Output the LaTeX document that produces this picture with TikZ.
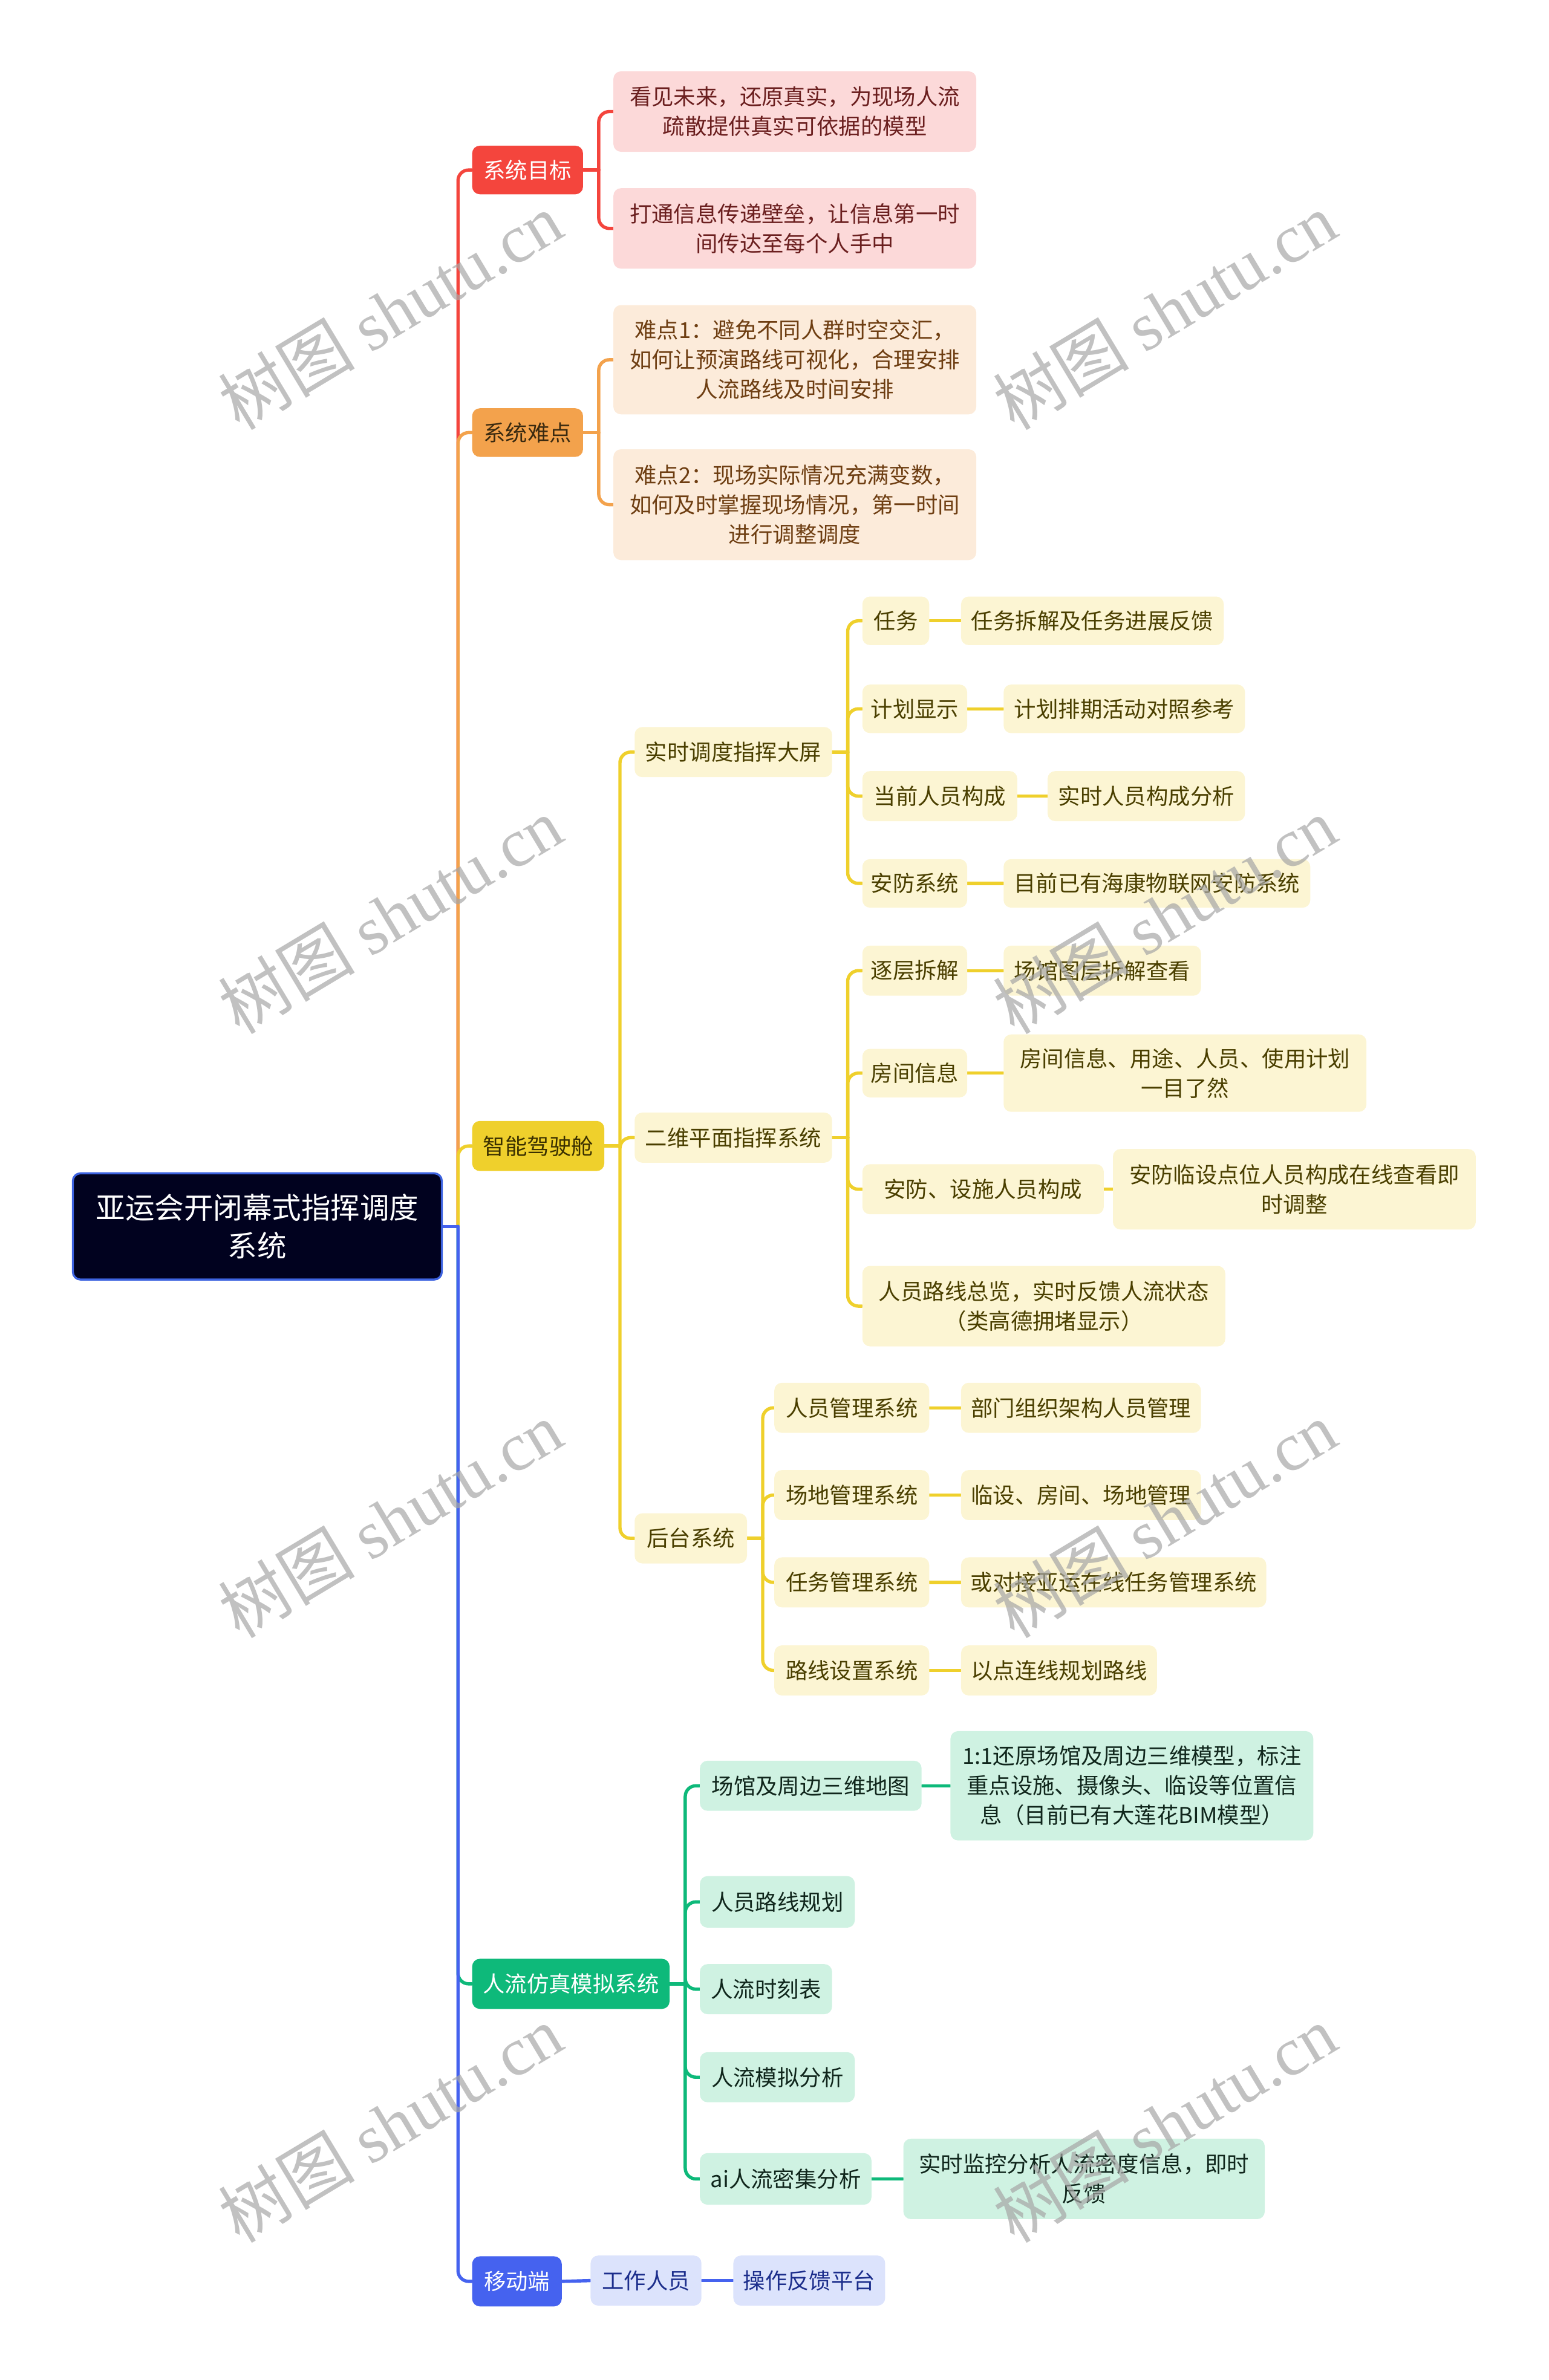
\documentclass[tikz,border=0pt]{standalone}
\usepackage{fontspec}
\setmainfont{Noto Sans CJK SC}
\newfontfamily\wmlatin{Liberation Serif}
\usetikzlibrary{backgrounds}
\pgfdeclarelayer{wmlayer}
\pgfsetlayers{background,main,wmlayer}
\definecolor{cRed}{HTML}{F4453D}
\definecolor{cOra}{HTML}{F3A24C}
\definecolor{cYel}{HTML}{EFD02C}
\definecolor{cGrn}{HTML}{0EB97A}
\definecolor{cBlu}{HTML}{4562EF}
\definecolor{cRoot}{HTML}{01021F}
\definecolor{cRootB}{HTML}{3D63E0}
\definecolor{fPink}{HTML}{FCD9D9}
\definecolor{fPeach}{HTML}{FCEBDA}
\definecolor{fCream}{HTML}{FCF5D3}
\definecolor{fMint}{HTML}{CFF2E2}
\definecolor{fLav}{HTML}{DCE3FC}
\definecolor{tPink}{HTML}{6B1F1F}
\definecolor{tPeach}{HTML}{6E3E12}
\definecolor{tCream}{HTML}{4A3F00}
\definecolor{tMint}{HTML}{10261C}
\definecolor{tLav}{HTML}{1C2E8C}
\definecolor{tOra}{HTML}{3A2A10}
\definecolor{tYel}{HTML}{3A3000}
\newcommand\nodefs{\fontsize{8.7pt}{11.7pt}\selectfont}
\newcommand\rootfs{\fontsize{11.6pt}{15pt}\selectfont}
\newcommand\conn[3]{%
  \draw[#1] (#2.east) -- ++(10,0) coordinate (jn);
  \draw[#1, rounded corners=4.2pt] (jn) |- (#3.west);}
\newcommand\sconn[3]{\draw[#1] (#2.east) -- (#3.west);}
\tikzset{
  box/.style={rounded corners=3pt, inner sep=0pt, align=center, font=\nodefs},
  wh/.style 2 args={minimum width=#1*0.6pt, minimum height=#2*0.6pt},
  lred/.style={box, fill=cRed, text=white},
  lora/.style={box, fill=cOra, text=tOra},
  lyel/.style={box, fill=cYel, text=tYel},
  lgrn/.style={box, fill=cGrn, text=white},
  lblu/.style={box, fill=cBlu, text=white},
  pink/.style={box, fill=fPink, text=tPink},
  peach/.style={box, fill=fPeach, text=tPeach},
  cream/.style={box, fill=fCream, text=tCream},
  mint/.style={box, fill=fMint, text=tMint},
  lav/.style={box, fill=fLav, text=tLav},
  lnred/.style={draw=cRed, line width=1.3pt, line cap=round},
  lnora/.style={draw=cOra, line width=1.3pt, line cap=round},
  lnyel/.style={draw=cYel, line width=1.3pt, line cap=round},
  lngrn/.style={draw=cGrn, line width=1.3pt, line cap=round},
  lnblu/.style={draw=cBlu, line width=1.3pt, line cap=round},
  wm/.style={rotate=31, text=black!35, opacity=0.7, font=\fontsize{27pt}{30pt}\selectfont}
}
\begin{document}
\begin{tikzpicture}[x=0.6pt, y=-0.6pt]
\useasboundingbox (0,0) rectangle (1020,1568);
% root
\node[box, wh={243}{70}, fill=cRoot, draw=cRootB, line width=0.8pt, text=white, font=\rootfs] (root) at (169.5,808) {亚运会开闭幕式指挥调度\\系统};
% level 1
\node[lred, wh={73}{32}] (g1) at (347.5,112) {系统目标};
\node[lora, wh={73}{32}] (g2) at (347.5,285) {系统难点};
\node[lyel, wh={87}{33}] (g3) at (354.5,755) {智能驾驶舱};
\node[lgrn, wh={130}{33}] (g4) at (376,1307) {人流仿真模拟系统};
\node[lblu, wh={59}{33}] (g5) at (340.5,1503) {移动端};
% goals
\node[pink, wh={239}{53}] (a1) at (523.5,73.5) {看见未来，还原真实，为现场人流\\疏散提供真实可依据的模型};
\node[pink, wh={239}{53}] (a2) at (523.5,150.5) {打通信息传递壁垒，让信息第一时\\间传达至每个人手中};
% difficulties
\node[peach, wh={239}{72}] (b1) at (523.5,237) {难点1：避免不同人群时空交汇，\\如何让预演路线可视化，合理安排\\人流路线及时间安排};
\node[peach, wh={239}{73}] (b2) at (523.5,332.5) {难点2：现场实际情况充满变数，\\如何及时掌握现场情况，第一时间\\进行调整调度};
% cockpit
\node[cream, wh={130}{33}] (c1) at (483,495.5) {实时调度指挥大屏};
\node[cream, wh={130}{33}] (c2) at (483,749.5) {二维平面指挥系统};
\node[cream, wh={74}{33}] (c3) at (455,1013.5) {后台系统};
\node[cream, wh={44}{32}] (d1) at (590,409) {任务};
\node[cream, wh={173}{32}] (e1) at (719.5,409) {任务拆解及任务进展反馈};
\node[cream, wh={69}{32}] (d2) at (602.5,467) {计划显示};
\node[cream, wh={159}{32}] (e2) at (740.5,467) {计划排期活动对照参考};
\node[cream, wh={102}{33}] (d3) at (619,524.5) {当前人员构成};
\node[cream, wh={130}{33}] (e3) at (755,524.5) {实时人员构成分析};
\node[cream, wh={69}{32}] (d4) at (602.5,582) {安防系统};
\node[cream, wh={202}{32}] (e4) at (762,582) {目前已有海康物联网安防系统};
\node[cream, wh={69}{33}] (d5) at (602.5,639.5) {逐层拆解};
\node[cream, wh={130}{33}] (e5) at (726,639.5) {场馆图层拆解查看};
\node[cream, wh={69}{32}] (d6) at (602.5,707) {房间信息};
\node[cream, wh={239}{51}] (e6) at (780.5,707) {房间信息、用途、人员、使用计划\\一目了然};
\node[cream, wh={159}{33}] (d7) at (647.5,783.5) {安防、设施人员构成};
\node[cream, wh={239}{53}] (e7) at (852.5,783.5) {安防临设点位人员构成在线查看即\\时调整};
\node[cream, wh={239}{53}] (d8) at (687.5,860.5) {人员路线总览，实时反馈人流状态\\（类高德拥堵显示）};
\node[cream, wh={102}{33}] (f1) at (561,927.5) {人员管理系统};
\node[cream, wh={158}{33}] (h1) at (712,927.5) {部门组织架构人员管理};
\node[cream, wh={102}{33}] (f2) at (561,985) {场地管理系统};
\node[cream, wh={158}{33}] (h2) at (712,985) {临设、房间、场地管理};
\node[cream, wh={102}{33}] (f3) at (561,1042.5) {任务管理系统};
\node[cream, wh={201}{33}] (h3) at (733.5,1042.5) {或对接亚运在线任务管理系统};
\node[cream, wh={102}{33}] (f4) at (561,1100.5) {路线设置系统};
\node[cream, wh={129}{33}] (h4) at (697.5,1100.5) {以点连线规划路线};
% simulation
\node[mint, wh={146}{33}] (k1) at (534,1176.5) {场馆及周边三维地图};
\node[mint, wh={239}{72}] (m1) at (745.5,1176.5) {1:1还原场馆及周边三维模型，标注\\重点设施、摄像头、临设等位置信\\息（目前已有大莲花BIM模型）};
\node[mint, wh={102}{34}] (k2) at (512,1253) {人员路线规划};
\node[mint, wh={87}{33}] (k3) at (504.5,1310.5) {人流时刻表};
\node[mint, wh={102}{33}] (k4) at (512,1368.5) {人流模拟分析};
\node[mint, wh={113}{34}] (k5) at (517.5,1435.5) {ai人流密集分析};
\node[mint, wh={238}{53}] (m5) at (714,1435.5) {实时监控分析人流密度信息，即时\\反馈};
% mobile
\node[lav, wh={73}{33}] (n1) at (425.5,1502.5) {工作人员};
\node[lav, wh={100}{33}] (n2) at (533,1502.5) {操作反馈平台};
% connectors
\begin{pgfonlayer}{background}
\conn{lnred}{root}{g1}
\conn{lnora}{root}{g2}
\conn{lnyel}{root}{g3}
\conn{lngrn}{root}{g4}
\conn{lnblu}{root}{g5}
\conn{lnred}{g1}{a1}
\conn{lnred}{g1}{a2}
\conn{lnora}{g2}{b1}
\conn{lnora}{g2}{b2}
\conn{lnyel}{g3}{c1}
\conn{lnyel}{g3}{c2}
\conn{lnyel}{g3}{c3}
\conn{lnyel}{c1}{d1}
\conn{lnyel}{c1}{d2}
\conn{lnyel}{c1}{d3}
\conn{lnyel}{c1}{d4}
\conn{lnyel}{c2}{d5}
\conn{lnyel}{c2}{d6}
\conn{lnyel}{c2}{d7}
\conn{lnyel}{c2}{d8}
\conn{lnyel}{c3}{f1}
\conn{lnyel}{c3}{f2}
\conn{lnyel}{c3}{f3}
\conn{lnyel}{c3}{f4}
\sconn{lnyel}{d1}{e1}
\sconn{lnyel}{d2}{e2}
\sconn{lnyel}{d3}{e3}
\sconn{lnyel}{d4}{e4}
\sconn{lnyel}{d5}{e5}
\sconn{lnyel}{d6}{e6}
\sconn{lnyel}{d7}{e7}
\sconn{lnyel}{f1}{h1}
\sconn{lnyel}{f2}{h2}
\sconn{lnyel}{f3}{h3}
\sconn{lnyel}{f4}{h4}
\conn{lngrn}{g4}{k1}
\conn{lngrn}{g4}{k2}
\conn{lngrn}{g4}{k3}
\conn{lngrn}{g4}{k4}
\conn{lngrn}{g4}{k5}
\sconn{lngrn}{k1}{m1}
\sconn{lngrn}{k5}{m5}
\sconn{lnblu}{g5}{n1}
\sconn{lnblu}{n1}{n2}
\end{pgfonlayer}
% watermarks
\begin{pgfonlayer}{wmlayer}
\node[wm] (w1) at (257,205) {树图 {\wmlatin shutu.cn}};
\node[wm] (w2) at (767,205) {树图 {\wmlatin shutu.cn}};
\node[wm] (w3) at (257,603) {树图 {\wmlatin shutu.cn}};
\node[wm] (w4) at (767,603) {树图 {\wmlatin shutu.cn}};
\node[wm] (w5) at (257,1001) {树图 {\wmlatin shutu.cn}};
\node[wm] (w6) at (767,1001) {树图 {\wmlatin shutu.cn}};
\node[wm] (w7) at (257,1399) {树图 {\wmlatin shutu.cn}};
\node[wm] (w8) at (767,1399) {树图 {\wmlatin shutu.cn}};
\end{pgfonlayer}
\end{tikzpicture}
\end{document}
